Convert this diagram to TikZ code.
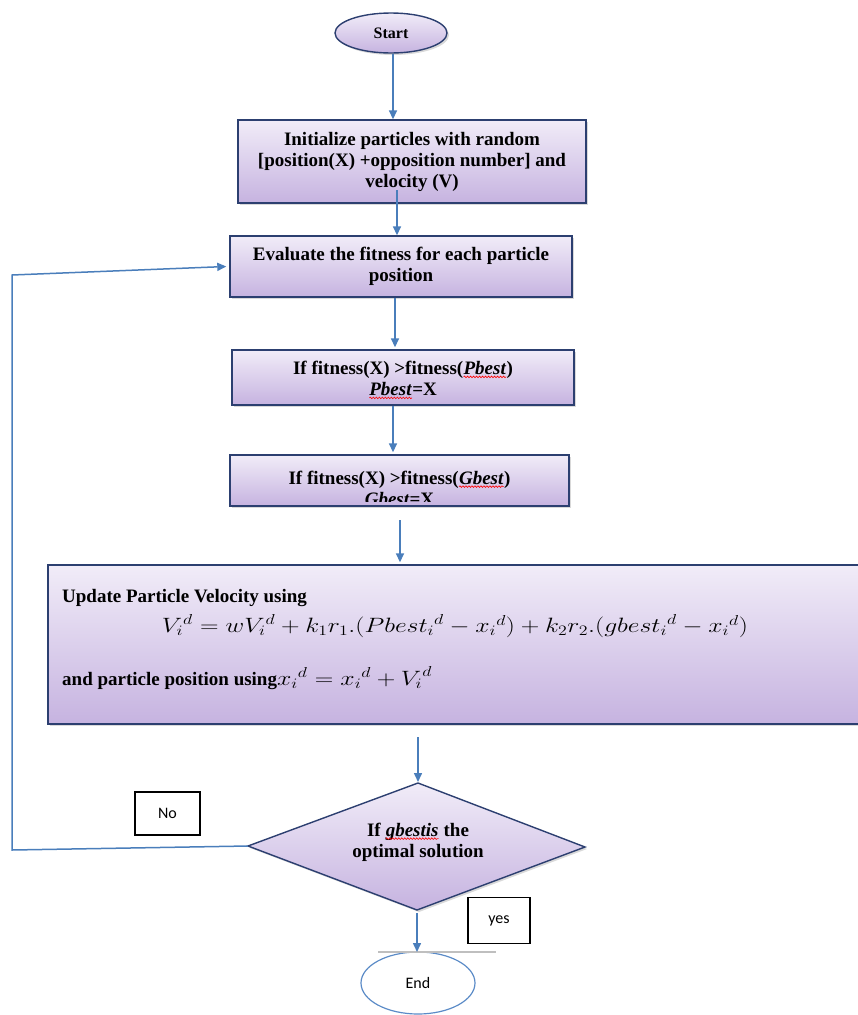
\documentclass[tikz,border=0pt]{standalone}
\usepackage{fontspec}
\usepackage{graphicx}
\setmainfont{Liberation Serif}
\newfontfamily\labelfont{Carlito}
\usetikzlibrary{shapes.geometric,arrows.meta,shadows,decorations.pathmorphing}

\definecolor{boxtop}{HTML}{F1ECF8}
\definecolor{boxbot}{HTML}{C6B3E0}
\definecolor{boxline}{HTML}{2C3F70}
\definecolor{arrowblue}{HTML}{4A7EBB}
\definecolor{endblue}{HTML}{5B8BC7}

% red wavy underline for flagged words
\newcommand\spellwave[1]{\tikz[baseline=(sw.base)]{%
  \node[inner sep=0pt, outer sep=0pt, minimum width=0pt, minimum height=0pt] (sw) {#1};
  \draw[red, line width=0.6pt, decorate, decoration={snake, amplitude=0.8pt, segment length=3pt}]
    ([yshift=-2.5pt]sw.base west) -- ([yshift=-2.5pt]sw.base east);}}
% wide math as set in the update box
\newcommand\widemath[1]{\scalebox{1.24}[1]{\fontsize{21}{24}\selectfont$#1$}}

\tikzset{
  boxfont/.style={font=\bfseries\fontsize{19}{21}\selectfont},
  procbox/.style={draw=boxline, line width=1.4pt, top color=boxtop, bottom color=boxbot,
    drop shadow={shadow xshift=2pt, shadow yshift=-2pt, opacity=0.3},
    boxfont, align=center, inner sep=0pt},
  boxtext/.style={boxfont, align=center, inner sep=0pt},
  flowarrow/.style={draw=arrowblue, line width=1.5pt, -{Triangle[length=9pt,width=8pt]}},
  tagbox/.style={draw=black, line width=1.4pt, fill=white, inner sep=0pt,
    font=\labelfont\fontsize{16}{19}\selectfont},
}

\begin{document}
\begin{tikzpicture}[x=1pt,y=-1pt]
\useasboundingbox (0,0) rectangle (858,1015);
\clip (0,0) rectangle (858,1015);

% terminals
\node[procbox, ellipse, minimum width=112, minimum height=40,
      font=\bfseries\fontsize{16}{19}\selectfont] (start) at (391,33) {Start};

% process boxes
\node[procbox, minimum width=348, minimum height=83] (b1) at (412,161.5)
  {Initialize particles with random\\{[}position(X) +opposition number{]} and\\velocity (V)};
\node[procbox, minimum width=342, minimum height=61] (b2) at (401,266.5)
  {Evaluate the fitness for each particle\\position};
\node[procbox, minimum width=342, minimum height=55] (b3) at (403,377.5) {};
\node[boxtext] (b3text) at (403,380)
  {If fitness(X) >fitness(\spellwave{\textit{Pbest}})\\\spellwave{\textit{Pbest}}=X};
\node[procbox, minimum width=339, minimum height=51] (b4) at (399.5,480.5) {};
\begin{scope}
  \clip ([yshift=-2pt]b4.north west) rectangle ([yshift=5pt]b4.south east);
  \node[boxtext] (b4text) at (399.5,488)
    {If fitness(X) >fitness(\spellwave{\textit{Gbest}})\\\textit{Gbest}=X};
\end{scope}

% update box (runs past the right edge)
\node[procbox, minimum width=822, minimum height=159] (b5) at (459,644.5) {};
\node[boxfont, anchor=west, inner sep=0pt] (updtext) at (62,598) {Update Particle Velocity using};
\node[inner sep=0pt] (veleq) at (455,626)
  {\widemath{ {V_i}^{d} = w{V_i}^{d} + k_1r_1.\Bigl({Pbest_i}^{d} - {x_i}^{d}\Bigr) + k_2r_2.\Bigl({gbest_i}^{d} - {x_i}^{d}\Bigr)}};
\node[boxfont, anchor=west, inner sep=0pt] (postext) at (62,678)
  {and particle position using\widemath{ {x_i}^{d} = {x_i}^{d} + {V_i}^{d}}};

% decision
\coordinate (dl) at (248,846);
\coordinate (dt) at (418,783);
\coordinate (dr) at (585,847);
\coordinate (db) at (417,910);
\path[draw=boxline, line width=1.4pt, top color=boxtop, bottom color=boxbot,
      drop shadow={shadow xshift=2pt, shadow yshift=-2pt, opacity=0.3}]
  (dl) -- (dt) -- (dr) -- (db) -- cycle;
\node[boxtext] (dtext) at (418,842)
  {If \spellwave{\textit{gbestis}} the\\optimal solution};

% end terminal
\node[ellipse, draw=endblue, line width=1.2pt, minimum width=114, minimum height=62,
      font=\labelfont\fontsize{16}{19}\selectfont] (end) at (418,983) {End};
\coordinate (gl) at (378,952);
\coordinate (gr) at (496,952);
\draw[gray!50, line width=1.2pt] (gl) -- (gr);

% labels
\node[tagbox, minimum width=65, minimum height=43] (no) at (167.5,813.5) {No};
\node[tagbox, minimum width=62, minimum height=46] (yes) at (499,920.5) {yes};

% connectors
\coordinate (a1) at (393,54);
\coordinate (a2) at (397,190);
\coordinate (a3) at (400,520);
\coordinate (a4) at (418,737);
\coordinate (a5) at (417,913);
\coordinate (lb) at (12,850);
\coordinate (lt) at (12,275);
\draw[flowarrow] (a1) -- (a1 |- b1.north);
\draw[flowarrow] (a2) -- (a2 |- b2.north);
\draw[flowarrow] (b2.south -| 395,0) -- ([yshift=2pt]b3.north -| 395,0);
\draw[flowarrow] (b3.south -| 393,0) -- ([yshift=2pt]b4.north -| 393,0);
\draw[flowarrow] (a3) -- ([yshift=2pt]a3 |- b5.north);
\draw[flowarrow] (a4) -- ([yshift=1pt]a4 |- dt);
\draw[flowarrow] (a5) -- (a5 |- gl);
\draw[flowarrow] (dl) -- (lb) -- (lt) -- ([xshift=-3pt]b2.west);
\end{tikzpicture}
\end{document}
